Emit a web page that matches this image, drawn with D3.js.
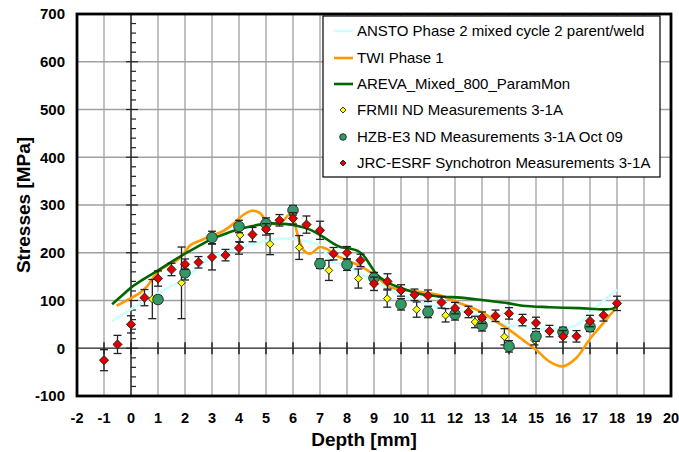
<!DOCTYPE html>
<html>
<head>
<meta charset="utf-8">
<script src="https://cdn.jsdelivr.net/npm/d3@7/dist/d3.min.js"></script>
<style>
  html, body { margin: 0; padding: 0; background: #fff; }
  svg { display: block; font-family: "Liberation Sans", Arial, sans-serif; }
</style>
</head>
<body>
<svg id="chart" width="679" height="452"></svg>
<script>
// ---- Simulation curves: [depth mm, stress MPa] ----
const anstoCurve = [[-0.7,56],[0,82],[0.5,98],[1,115],[1.5,130],[2,145],[2.5,170],[3,192],[3.5,202],[4,209],[4.5,218],[5,225],[5.5,229],[6,229],[6.5,224],[6.9,218],[7.15,205],[7.4,184],[8,172],[8.6,153],[9,142],[9.5,125],[10,111],[10.5,100],[11,91],[11.7,83],[12.4,76],[13,66],[13.5,56],[14,48],[14.5,45],[15,41],[15.5,40],[16,42],[16.4,46],[16.75,59],[17.25,87],[17.6,104],[18,123]];
const twiCurve = [[-0.53,89],[0,105],[0.33,116],[0.6,130],[0.85,150],[1.1,165],[1.45,177],[1.7,184],[1.95,198],[2.2,216],[2.55,225],[3,236],[3.4,245],[3.8,261],[4.15,279],[4.5,288],[4.78,283],[5.03,266],[5.4,260],[5.65,268],[5.85,279],[6.02,270],[6.16,240],[6.4,205],[6.63,198],[7,212],[7.25,208],[7.5,197],[8,184],[8.5,172],[9,154],[9.6,128],[10,123],[11,116],[11.5,110],[12,98],[12.5,88],[13,75],[13.5,57],[14,39],[14.5,18],[15,-3],[15.5,-28],[16,-38],[16.5,-20],[17,20],[17.5,53],[18,87]];
const arevaCurve = [[-0.7,92],[-0.3,112],[0,127],[0.5,146],[1,163],[1.5,181],[2,198],[2.5,214],[3,229],[3.5,240],[4,249],[4.5,256],[5,261],[5.5,261],[6,258],[6.6,249],[7.1,234],[7.5,219],[7.75,212],[8.1,209],[8.4,204],[8.6,195],[8.85,175],[9,162],[9.1,154],[9.5,138],[10,126],[10.5,117],[11,111],[11.6,108],[12.2,106],[13,101],[14,94],[14.5,89],[15.5,86],[16.6,84],[17.85,83],[18,90]];

// ---- Measurements ----
const frmX   = [0.79,1.87,4.04,5.15,6.23,7.33,8.42,9.49,10.58,11.65,12.74,13.83,14.94];
const frmY   = [103,137,237,218,211,163,146,104,81,69,55,24,17];
const frmErr = [41,75,15,22,25,21,20,18,16,14,12,17,10];

const hzbX   = [1,2,3,4,5,6,7,8,9,10,11,12,13,14,15,16,17];
const hzbY   = [102,158,232,255,261,289,177,175,147,92,76,71,48,4,25,34,45];
const hzbErr = [8,15,13,13,12,10,10,12,12,12,12,12,12,12,10,10,10];

const jrcX   = [-1,-0.5,0,0.5,1,1.5,2,2.5,3,3.5,4,4.5,5,5.5,6,6.5,7,7.5,8,8.5,9,9.5,10,10.5,11,11.5,12,12.5,13,13.5,14,14.5,15,15.5,16,16.5,17,17.5,18];
const jrcY   = [-25,8,50,106,146,165,176,180,191,195,210,238,249,268,272,259,247,198,200,184,135,140,121,112,110,96,84,76,64,68,73,59,53,36,25,25,57,69,94];
const jrcErr = [22,19,18,17,16,13,11,12,27,12,13,15,12,12,12,18,19,13,13,13,14,16,12,12,12,12,12,12,12,12,12,12,12,12,12,12,12,12,15];

// ---- Axes ----
const xTicks = d3.range(-2, 21, 1);
const yTicks = d3.range(-100, 701, 100);

const legendLabels = [
  "ANSTO Phase 2 mixed cycle 2 parent/weld",
  "TWI Phase 1",
  "AREVA_Mixed_800_ParamMon",
  "FRMII ND Measurements 3-1A",
  "HZB-E3 ND Measurements 3-1A Oct 09",
  "JRC-ESRF Synchotron Measurements 3-1A"
];

const colors = { ansto: "#ccffff", twi: "#ff9900", areva: "#006600", frm: "#ffff00", hzb: "#339966", jrc: "#e00000" };

const svg = d3.select("#chart");
const L = 77, R = 671, T = 14, B = 396;
const x = d3.scaleLinear().domain([-2, 20]).range([L, R]);
const y = d3.scaleLinear().domain([-100, 700]).range([B, T]);

// grid
const grid = svg.append("g");
grid.selectAll("line.v").data(xTicks).join("line")
  .attr("x1", d => x(d)).attr("x2", d => x(d)).attr("y1", T).attr("y2", B)
  .attr("stroke", "#a0a0a0").attr("stroke-width", 1.3);
grid.selectAll("line.h").data(yTicks).join("line")
  .attr("x1", L).attr("x2", R).attr("y1", d => y(d)).attr("y2", d => y(d))
  .attr("stroke", "#a0a0a0").attr("stroke-width", 1.3);

// axes through the origin
const zx = x(0), zy = y(0);
svg.append("line").attr("x1", zx).attr("x2", zx).attr("y1", T).attr("y2", B)
  .attr("stroke", "#333").attr("stroke-width", 1.5);
svg.append("line").attr("x1", L).attr("x2", R).attr("y1", zy).attr("y2", zy)
  .attr("stroke", "#555").attr("stroke-width", 1.5);
const yMinor = d3.range(-100, 701, 20);
svg.append("g").selectAll("line").data(yMinor).join("line")
  .attr("x1", d => d % 100 === 0 ? zx - 5 : zx)
  .attr("x2", d => d % 100 === 0 ? zx + 7 : zx + 5)
  .attr("y1", d => y(d)).attr("y2", d => y(d))
  .attr("stroke", "#222").attr("stroke-width", 1.2);
svg.append("g").selectAll("line").data(d3.range(-1, 20, 1)).join("line")
  .attr("x1", d => x(d)).attr("x2", d => x(d))
  .attr("y1", zy - 6).attr("y2", zy + 6)
  .attr("stroke", "#222").attr("stroke-width", 1.5);

// curves
const line = d3.line().x(d => x(d[0])).y(d => y(d[1])).curve(d3.curveCatmullRom.alpha(0.5));
svg.append("path").datum(anstoCurve).attr("d", line).attr("fill", "none")
  .attr("stroke", colors.ansto).attr("stroke-width", 2.6);
svg.append("path").datum(twiCurve).attr("d", line).attr("fill", "none")
  .attr("stroke", colors.twi).attr("stroke-width", 2.6);
svg.append("path").datum(arevaCurve).attr("d", line).attr("fill", "none")
  .attr("stroke", colors.areva).attr("stroke-width", 2.6);

// error bars + markers
function series(xs, ys, es, drawMarker) {
  const g = svg.append("g");
  const pts = xs.map((v, i) => ({ x: v, y: ys[i], e: es[i] }));
  const eb = g.selectAll("g.eb").data(pts).join("g").attr("stroke", "#222").attr("stroke-width", 1.3);
  eb.append("line").attr("x1", d => x(d.x)).attr("x2", d => x(d.x))
    .attr("y1", d => y(d.y + d.e)).attr("y2", d => y(d.y - d.e));
  eb.append("line").attr("x1", d => x(d.x) - 4).attr("x2", d => x(d.x) + 4)
    .attr("y1", d => y(d.y + d.e)).attr("y2", d => y(d.y + d.e));
  eb.append("line").attr("x1", d => x(d.x) - 4).attr("x2", d => x(d.x) + 4)
    .attr("y1", d => y(d.y - d.e)).attr("y2", d => y(d.y - d.e));
  pts.forEach(p => drawMarker(g, x(p.x), y(p.y)));
}
// square-shaped diamond (rotated square)
const diamond = (fill, r) => (g, cx, cy) => g.append("path")
  .attr("d", `M0,${-r}L${r},0L0,${r}L${-r},0Z`)
  .attr("transform", `translate(${cx},${cy})`)
  .attr("fill", fill).attr("stroke", "#222").attr("stroke-width", 0.9);
const circle = (fill, r) => (g, cx, cy) => g.append("circle")
  .attr("cx", cx).attr("cy", cy).attr("r", r)
  .attr("fill", fill).attr("stroke", "#222").attr("stroke-width", 0.9);

series(frmX, frmY, frmErr, diamond(colors.frm, 3.8));
series(hzbX, hzbY, hzbErr, circle(colors.hzb, 5.3));
series(jrcX, jrcY, jrcErr, diamond(colors.jrc, 4.6));

// frame
svg.append("rect").attr("x", L).attr("y", T).attr("width", R - L).attr("height", B - T)
  .attr("fill", "none").attr("stroke", "#000").attr("stroke-width", 2.8);

// tick labels
svg.append("g").selectAll("text").data(yTicks).join("text")
  .attr("x", 65).attr("y", d => y(d)).attr("dy", "0.35em")
  .attr("text-anchor", "end").attr("font-size", 15).attr("font-weight", "bold")
  .text(d => d);
svg.append("g").selectAll("text").data(xTicks).join("text")
  .attr("x", d => x(d)).attr("y", 418).attr("dy", "0.35em")
  .attr("text-anchor", "middle").attr("font-size", 14.5).attr("font-weight", "bold")
  .text(d => d);

// axis titles
svg.append("text").attr("x", 364).attr("y", 446).attr("text-anchor", "middle")
  .attr("font-size", 19).attr("font-weight", "bold").text("Depth [mm]");
svg.append("text").attr("transform", "translate(30,205) rotate(-90)")
  .attr("text-anchor", "middle").attr("font-size", 19).attr("font-weight", "bold")
  .text("Stresses [MPa]");

// legend
const lg = svg.append("g");
lg.append("rect").attr("x", 323).attr("y", 16).attr("width", 337).attr("height", 161)
  .attr("fill", "#fff").attr("stroke", "#000").attr("stroke-width", 1.2);
const rowY = [31, 58, 84, 110, 137, 163];
const lineCols = [colors.ansto, colors.twi, colors.areva];
legendLabels.forEach((lab, i) => {
  const cy = rowY[i];
  if (i < 3) {
    lg.append("line").attr("x1", 334).attr("x2", 353).attr("y1", cy).attr("y2", cy)
      .attr("stroke", lineCols[i]).attr("stroke-width", 2.6);
  } else if (i === 3) {
    diamond(colors.frm, 3)(lg, 343, cy);
  } else if (i === 4) {
    circle(colors.hzb, 3.3)(lg, 343, cy);
  } else {
    diamond(colors.jrc, 3)(lg, 343, cy);
  }
  lg.append("text").attr("x", 357).attr("y", cy).attr("dy", "0.35em")
    .attr("font-size", 15).text(lab);
});
</script>
</body>
</html>
